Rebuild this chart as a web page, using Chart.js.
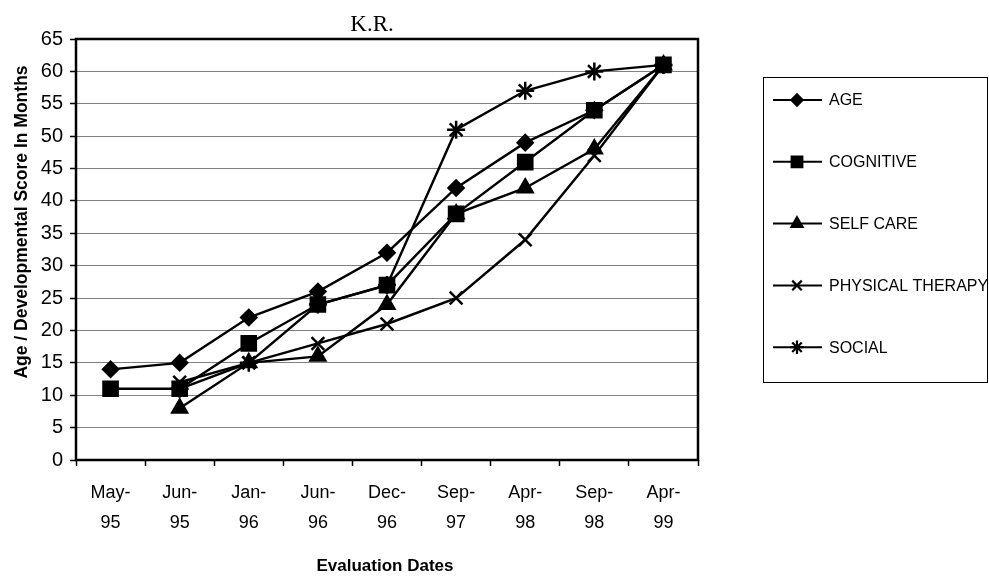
<!DOCTYPE html>
<html><head><meta charset="utf-8">
<script src="https://cdn.jsdelivr.net/npm/chart.js@4/dist/chart.umd.min.js"></script>
<style>html,body{margin:0;padding:0;background:#fff}#wrap{width:989px;height:580px;position:relative}</style>
</head><body><div id="wrap"><canvas id="c" width="989" height="580"></canvas></div>
<script>
const categories = [["May-","95"],["Jun-","95"],["Jan-","96"],["Jun-","96"],["Dec-","96"],["Sep-","97"],["Apr-","98"],["Sep-","98"],["Apr-","99"]];
const seriesNames = ["AGE","COGNITIVE","SELF CARE","PHYSICAL THERAPY","SOCIAL"];
const ageValues = [14,15,22,26,32,42,49,54,61];
const cognitiveValues = [11,11,18,24,27,38,46,54,61];
const selfCareValues = [null,8,15,16,24,38,42,48,61];
const physicalTherapyValues = [null,12,15,18,21,25,34,47,61];
const socialValues = [null,11,15,24,27,51,57,60,61];
const yTickMin = 0, yTickMax = 65, yTickStep = 5;
const chartTitle = "K.R.";
const xTitle = "Evaluation Dates";
const yTitle = "Age / Developmental Score In Months";

const seriesValues = [ageValues, cognitiveValues, selfCareValues, physicalTherapyValues, socialValues];
const markerStyles = [
  {pointStyle:'rectRot', pointRadius:7.5},
  {pointStyle:'rect', pointRadius:10},
  {pointStyle:'triangle', pointRadius:8.5},
  {pointStyle:'crossRot', pointRadius:9},
  {pointStyle:'star', pointRadius:9}
];

const datasets = seriesNames.map((name,i)=>({
  label: name,
  data: seriesValues[i],
  borderColor:'#000',
  backgroundColor:'#000',
  pointBackgroundColor:'#000',
  pointBorderColor:'#000',
  borderWidth:2.4,
  pointBorderWidth:2.5,
  pointStyle: markerStyles[i].pointStyle,
  pointRadius: markerStyles[i].pointRadius,
  tension:0,
  spanGaps:false
}));

const decor = {
  id:'decor',
  beforeDatasetsDraw(chart){
    const {ctx, chartArea:a} = chart;
    ctx.save();
    ctx.strokeStyle='#000'; ctx.lineWidth=2.5;
    ctx.strokeRect(a.left, a.top, a.right-a.left, a.bottom-a.top);
    ctx.restore();
  },
  afterDraw(chart){
    const {ctx, chartArea:a} = chart;
    ctx.save();
    ctx.fillStyle='#000';
    // chart title
    ctx.font='23px "Liberation Serif", "Times New Roman", serif';
    ctx.textAlign='center'; ctx.textBaseline='alphabetic';
    ctx.fillText(chartTitle, 372, 31);
    // x title
    ctx.font='bold 17px "Liberation Sans", Arial, sans-serif';
    ctx.textBaseline='middle';
    ctx.fillText(xTitle, 385, 566);
    // y title
    ctx.save();
    ctx.translate(22, 222);
    ctx.rotate(-Math.PI/2);
    ctx.font='bold 17.5px "Liberation Sans", Arial, sans-serif';
    ctx.fillText(yTitle, 0, 0);
    ctx.restore();
    // legend
    ctx.strokeStyle='#000'; ctx.lineWidth=1;
    ctx.strokeRect(763.5, 77.5, 224, 305);
    ctx.font='16px "Liberation Sans", Arial, sans-serif';
    ctx.textAlign='left'; ctx.textBaseline='middle';
    chart.data.datasets.forEach((ds,i)=>{
      const y = 100 + i*61.8;
      ctx.beginPath(); ctx.lineWidth=2; ctx.moveTo(773,y); ctx.lineTo(822,y); ctx.stroke();
      ctx.fillStyle='#000'; ctx.strokeStyle='#000'; ctx.lineWidth=2.2;
      Chart.helpers.drawPoint(ctx,{pointStyle:ds.pointStyle, radius:ds.pointRadius*0.75, borderWidth:2.2, rotation:0}, 797, y);
      ctx.fillText(ds.label, 829, y+1);
    });
    ctx.restore();
  }
};

new Chart(document.getElementById('c'), {
  type:'line',
  data:{labels:categories, datasets},
  options:{
    responsive:false, animation:false, devicePixelRatio:1,
    layout:{padding:{left:0, top:39, right:291, bottom:0}},
    plugins:{legend:{display:false}, title:{display:false}, tooltip:{enabled:false}},
    scales:{
      x:{
        offset:true,
        grid:{display:true, offset:true, drawOnChartArea:false, tickLength:6, tickColor:'#000', tickWidth:1.5},
        border:{display:false},
        ticks:{color:'#000', padding:12, maxRotation:0, autoSkip:false,
          font:{family:'"Liberation Sans", Arial, sans-serif', size:18, lineHeight:1.66}},
        afterFit(s){ s.height = 120; }
      },
      y:{
        min:yTickMin, max:yTickMax,
        grid:{color:'#808080', lineWidth:1, tickLength:6, tickColor:'#000', tickWidth:1.5},
        border:{display:false},
        ticks:{stepSize:yTickStep, color:'#000', padding:7,
          font:{family:'"Liberation Sans", Arial, sans-serif', size:20}},
        afterFit(s){ s.width = 76; }
      }
    }
  },
  plugins:[decor]
});
</script></body></html>
